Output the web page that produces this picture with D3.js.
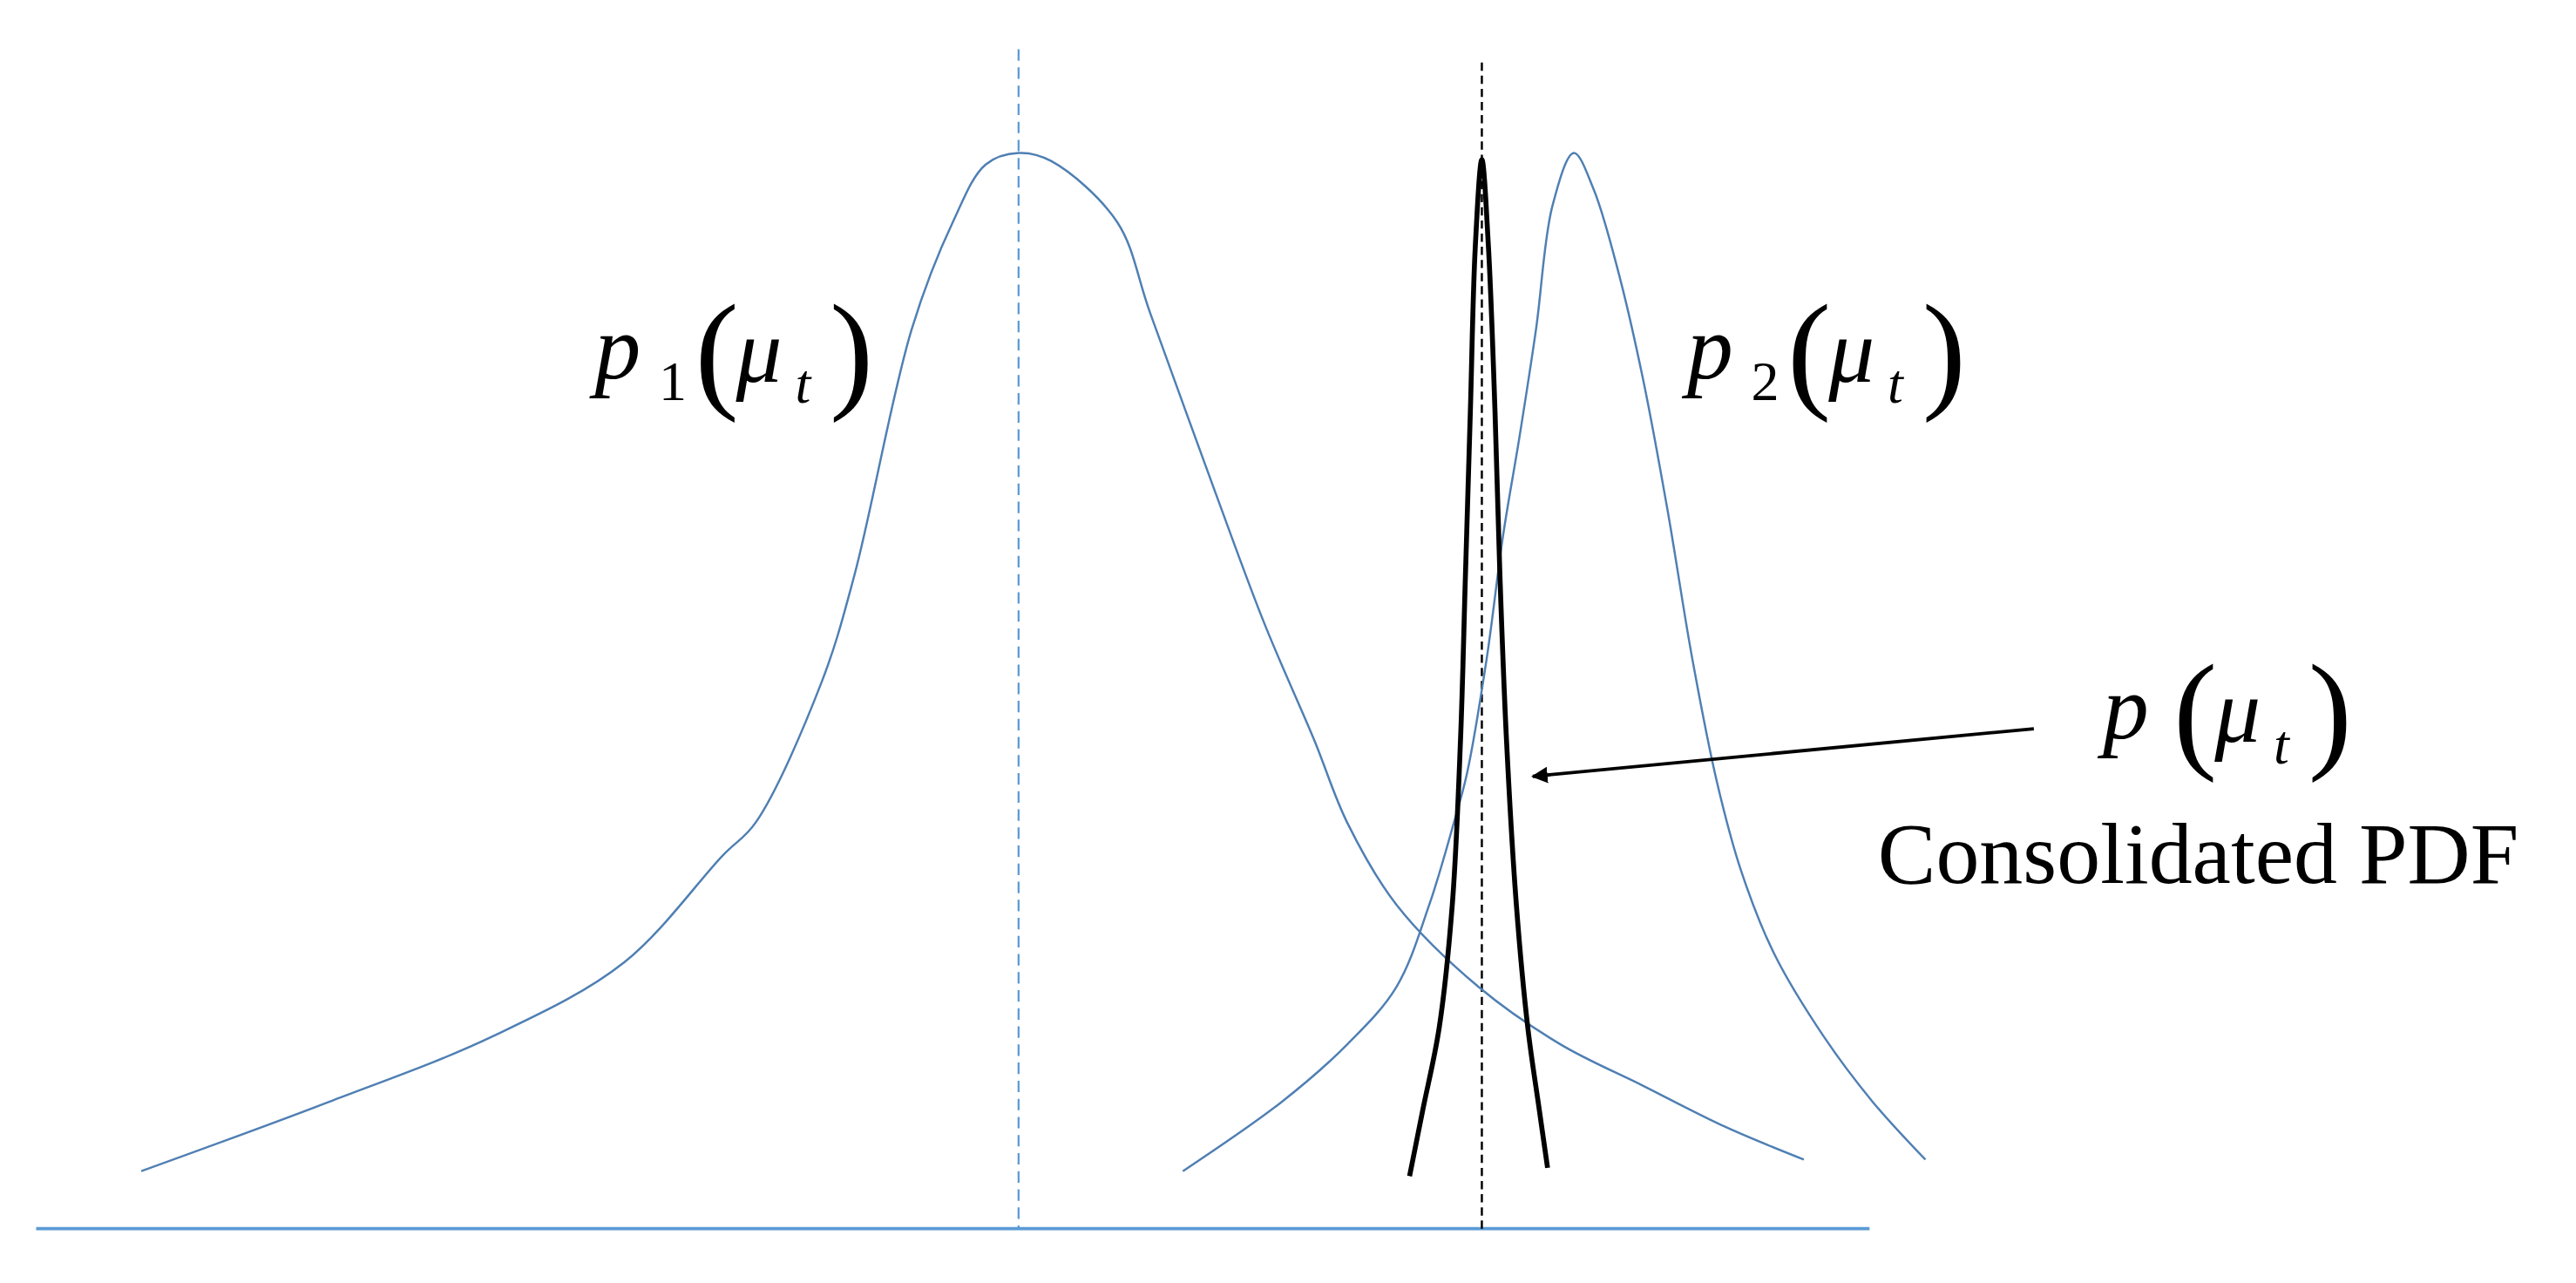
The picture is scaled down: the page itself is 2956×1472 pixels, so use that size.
<!DOCTYPE html>
<html>
<head>
<meta charset="utf-8">
<style>
  body { margin: 0; background: #fff; }
  svg { display: block; }
  .math { font-family: "Liberation Serif", serif; fill: #000; }
  .cap { font-family: "Liberation Serif", serif; font-size: 53px; fill: #000; }
</style>
</head>
<body>
<script src="https://cdn.jsdelivr.net/npm/d3@7"></script>
<script>
// curve samples: x position, height above the baseline (picture units)
var p1X = [86, 200, 300, 380, 440, 460, 500, 520, 555, 580, 600, 620, 640, 680, 700, 740, 770, 800, 820, 850, 900, 950, 1000, 1050, 1098],
    p1H = [35, 77, 117, 162, 227, 247, 332, 397, 547, 612, 647, 654, 649, 612, 557, 447, 367, 297, 247, 197, 147, 112, 87, 62, 42];
var p2X = [720, 780, 820, 850, 870, 885, 893, 905, 915, 925, 935, 945, 958, 970, 985, 1000, 1015, 1030, 1045, 1060, 1080, 1110, 1140, 1172],
    p2H = [35, 77, 112, 147, 197, 247, 277, 347, 422, 482, 547, 622, 654, 632, 582, 517, 437, 347, 272, 217, 167, 117, 77, 42];
var pX = [858, 866, 876, 884, 889, 892, 895, 898, 902, 906, 910, 913, 917, 923, 930, 937, 942],
    pH = [32, 72, 122, 197, 297, 397, 497, 597, 650, 597, 497, 397, 297, 197, 122, 72, 37];
var mean1 = 620, meanP = 902;

var W = 1568, H = 780, baseY = 747;
var svg = d3.select("body").append("svg")
    .attr("width", 2956).attr("height", 1472)
    .attr("viewBox", "0 0 " + W + " " + H)
    .attr("preserveAspectRatio", "none");

var x = d3.scaleLinear().domain([0, W]).range([0, W]);
var y = d3.scaleLinear().domain([0, baseY]).range([baseY, 0]);

svg.append("defs").append("marker")
    .attr("id", "arr").attr("viewBox", "0 0 10 10")
    .attr("refX", 9).attr("refY", 5)
    .attr("markerWidth", 5).attr("markerHeight", 5)
    .attr("orient", "auto")
  .append("path").attr("d", "M0,0L10,5L0,10z").attr("fill", "#000");

// baseline
svg.append("line")
    .attr("x1", x(22)).attr("x2", x(1138))
    .attr("y1", y(0)).attr("y2", y(0))
    .attr("stroke", "#5b9bd5").attr("stroke-width", 2);

// mean markers
svg.append("line")
    .attr("x1", x(mean1)).attr("x2", x(mean1))
    .attr("y1", 30).attr("y2", y(0))
    .attr("stroke", "#5b9bd5").attr("stroke-width", 1.2)
    .attr("stroke-dasharray", "7,4");
svg.append("line")
    .attr("x1", x(meanP)).attr("x2", x(meanP))
    .attr("y1", 38).attr("y2", 750)
    .attr("stroke", "#000").attr("stroke-width", 1.3)
    .attr("stroke-dasharray", "5,3");

var line = d3.line()
    .x(function(d) { return x(d[0]); })
    .y(function(d) { return y(d[1]); })
    .curve(d3.curveCatmullRom);

function curve(xs, hs, color, w) {
  svg.append("path")
      .datum(d3.zip(xs, hs))
      .attr("d", line)
      .attr("fill", "none")
      .attr("stroke", color)
      .attr("stroke-width", w);
}
curve(p1X, p1H, "#4f7fb3", 1.3);
curve(p2X, p2H, "#4f7fb3", 1.3);
curve(pX, pH, "#000", 3);

// arrow
svg.append("line")
    .attr("x1", 1238).attr("y1", 443)
    .attr("x2", 933).attr("y2", 472)
    .attr("stroke", "#000").attr("stroke-width", 2)
    .attr("marker-end", "url(#arr)");

function mathLabel(x0, b, sub) {
  var g = svg.append("g").attr("class", "math");
  g.append("text").attr("x", x0).attr("y", b).attr("font-size", 56)
    .attr("font-style", "italic").text("p");
  var off = 0;
  if (sub) {
    g.append("text").attr("x", x0 + 39).attr("y", b + 13).attr("font-size", 34).text(sub);
    off = 18;
  }
  g.append("text").attr("x", x0 + 43 + off).attr("y", b + 10).attr("font-size", 80)
    .attr("font-weight", 100).text("(");
  g.append("text").attr("x", x0 + 68 + off).attr("y", b + 2).attr("font-size", 56)
    .attr("font-style", "italic").text("\u03bc");
  g.append("text").attr("x", x0 + 104 + off).attr("y", b + 15).attr("font-size", 34)
    .attr("font-style", "italic").text("t");
  g.append("text").attr("x", x0 + 125 + off).attr("y", b + 10).attr("font-size", 80)
    .text(")");
}
mathLabel(362, 230, "1");
mathLabel(1027, 230, "2");
mathLabel(1280, 449, null);

svg.append("text").attr("class", "cap")
    .attr("x", 1143).attr("y", 537)
    .text("Consolidated PDF");
</script>
</body>
</html>
